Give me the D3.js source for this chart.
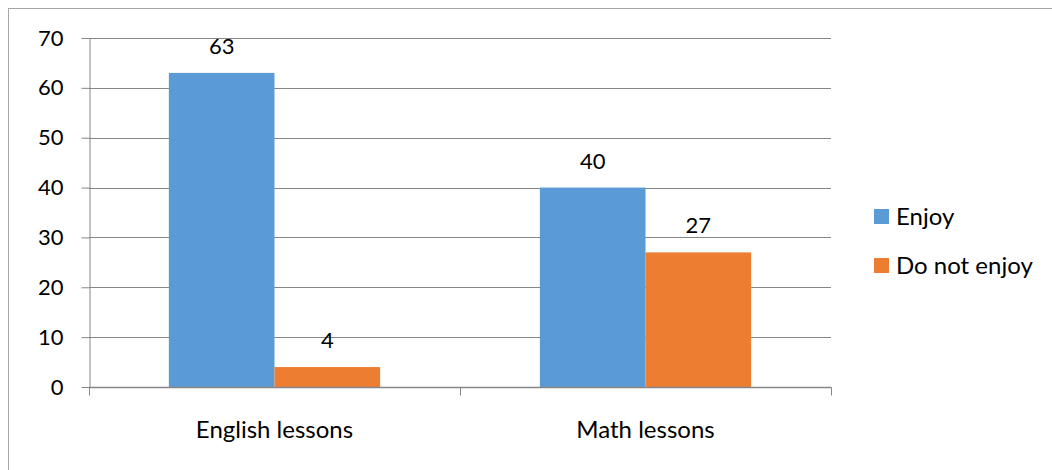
<!DOCTYPE html>
<html>
<head>
<meta charset="utf-8">
<script src="https://cdn.jsdelivr.net/npm/d3@7"></script>
<style>
  html, body { margin: 0; padding: 0; background: #fff; }
  svg { display: block; }
  text { font-family: Lato, "Open Sans", sans-serif; fill: #000; }
</style>
</head>
<body>
<svg id="chart" width="1052" height="470"></svg>
<script>
// Survey results: how many pupils enjoy each kind of lesson
const categories = ["English lessons", "Math lessons"];
const seriesNames = ["Enjoy", "Do not enjoy"];
const enjoy = [63, 40];
const doNotEnjoy = [4, 27];
const yTicks = [0, 10, 20, 30, 40, 50, 60, 70];
const colors = ["#5B9BD5", "#ED7D31"];

const svg = d3.select("#chart");
const W = 1052, H = 470;
const numSize = 22, wordSize = 24;

// outer frame (runs past the right and bottom edges)
svg.append("rect")
  .attr("x", 8.5).attr("y", 8.5)
  .attr("width", W + 10).attr("height", H + 10)
  .attr("fill", "none").attr("stroke", "#a6a6a6").attr("stroke-width", 1);

const plot = { left: 89, right: 831, top: 38, bottom: 387 };

const x = d3.scaleBand().domain(categories)
  .range([plot.left, plot.right]).paddingInner(0).paddingOuter(0);
const xSub = d3.scaleBand().domain(seriesNames)
  .range([0, x.bandwidth()]).paddingOuter(0.756).paddingInner(0);
const y = d3.scaleLinear().domain([0, 70]).range([plot.bottom, plot.top]);

// gridlines
svg.append("g").selectAll("line").data(yTicks.filter(d => d > 0)).join("line")
  .attr("x1", plot.left).attr("x2", plot.right)
  .attr("y1", d => Math.round(y(d)) + 0.5).attr("y2", d => Math.round(y(d)) + 0.5)
  .attr("stroke", "#868686").attr("stroke-width", 1);

// bars
const rows = categories.map((c, i) => ({ cat: c, values: [enjoy[i], doNotEnjoy[i]] }));
const groups = svg.append("g").selectAll("g").data(rows).join("g")
  .attr("transform", d => `translate(${x(d.cat)},0)`);

groups.selectAll("rect").data(d => d.values.map((v, j) => ({ name: seriesNames[j], v, j }))).join("rect")
  .attr("x", d => xSub(d.name))
  .attr("width", xSub.bandwidth())
  .attr("y", d => y(d.v))
  .attr("height", d => y(0) - y(d.v))
  .attr("fill", d => colors[d.j]);

// value labels
groups.selectAll("text").data(d => d.values.map((v, j) => ({ name: seriesNames[j], v, j }))).join("text")
  .attr("x", d => xSub(d.name) + xSub.bandwidth() / 2)
  .attr("y", d => y(d.v) - 19)
  .attr("text-anchor", "middle")
  .attr("font-size", numSize)
  .text(d => d.v);

// y axis
const yAxis = d3.axisLeft(y).tickValues(yTicks).tickSize(8).tickPadding(18).tickSizeOuter(0);
const gy = svg.append("g").attr("transform", `translate(${plot.left + 0.5},0)`).call(yAxis);
gy.select(".domain").attr("stroke", "#868686");
gy.selectAll(".tick line").attr("stroke", "#868686");
gy.selectAll(".tick text").attr("font-size", numSize).attr("font-family", "Lato, 'Open Sans', sans-serif").attr("fill", "#000");

// x axis with tick marks at category boundaries
const gx = svg.append("g").attr("transform", `translate(0,${plot.bottom + 0.5})`);
gx.append("line").attr("x1", plot.left).attr("x2", plot.right + 0.5)
  .attr("stroke", "#868686").attr("stroke-width", 1.5);
const boundaries = [plot.left, ...categories.map(c => x(c) + x.bandwidth())];
gx.selectAll("line.tk").data(boundaries).join("line").attr("class", "tk")
  .attr("x1", d => Math.round(d) + 0.5).attr("x2", d => Math.round(d) + 0.5)
  .attr("y1", 0).attr("y2", 8).attr("stroke", "#868686");
gx.selectAll("text").data(categories).join("text")
  .attr("x", d => x(d) + x.bandwidth() / 2)
  .attr("y", 50)
  .attr("text-anchor", "middle")
  .attr("font-size", wordSize)
  .text(d => d);

// legend
const legend = svg.append("g").attr("transform", "translate(874,209)");
const li = legend.selectAll("g").data(seriesNames).join("g")
  .attr("transform", (d, i) => `translate(0,${i * 49})`);
li.append("rect").attr("width", 15).attr("height", 15).attr("fill", (d, i) => colors[i]);
li.append("text").attr("x", 22).attr("y", 8).attr("dy", "0.35em")
  .attr("font-size", wordSize).text(d => d);
</script>
</body>
</html>
